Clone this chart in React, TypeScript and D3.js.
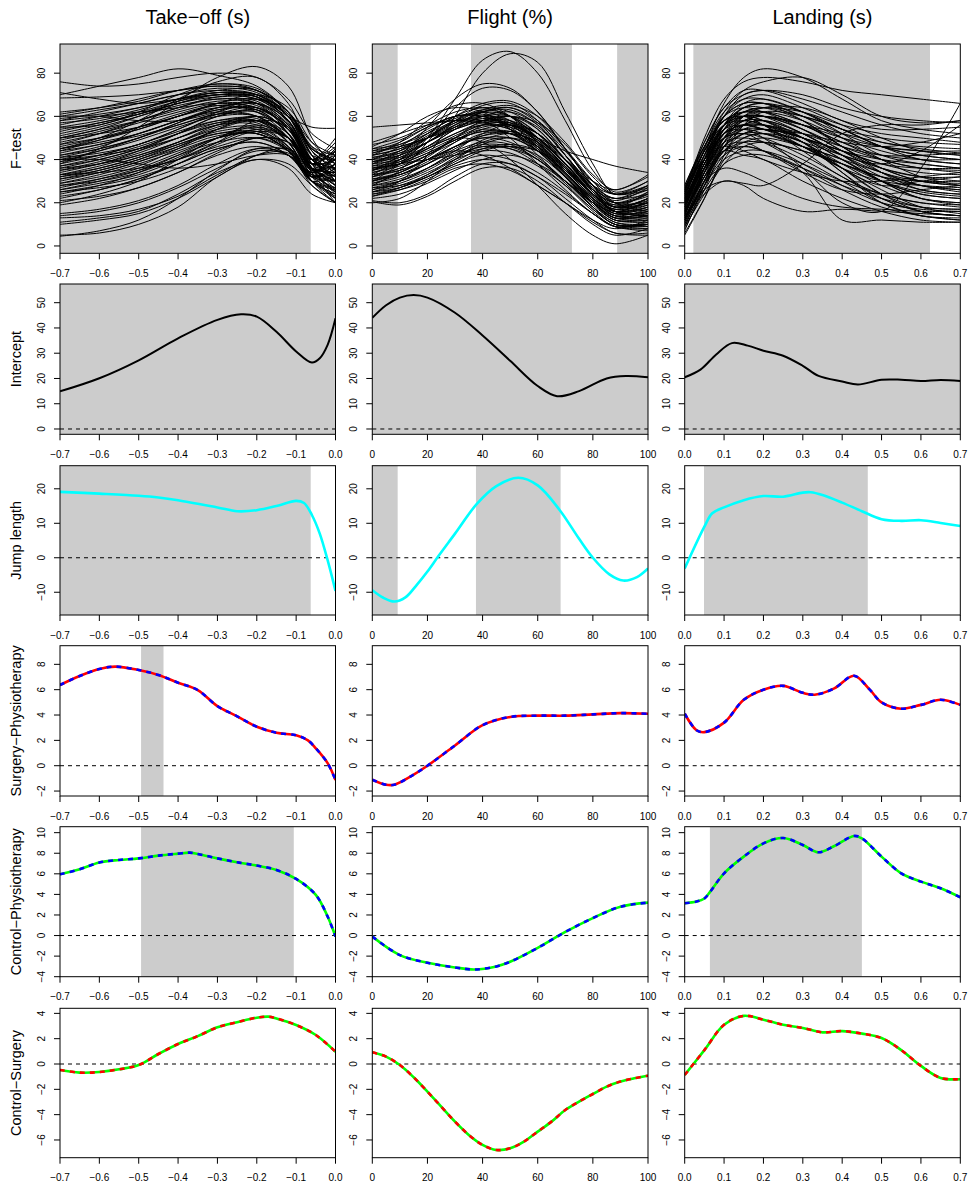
import React from 'react';
import * as d3 from 'd3';

const colTitles = ['Take−off (s)', 'Flight (%)', 'Landing (s)'];
const rowLabels = ['F−test', 'Intercept', 'Jump length', 'Surgery−Physiotherapy', 'Control−Physiotherapy', 'Control−Surgery'];

const xDomains: [number, number][] = [[-0.7, 0], [0, 100], [0, 0.7]];
const xTicksTakeoff = [-0.7, -0.6, -0.5, -0.4, -0.3, -0.2, -0.1, 0.0];
const xTicksFlight = [0, 20, 40, 60, 80, 100];
const xTicksLanding = [0.0, 0.1, 0.2, 0.3, 0.4, 0.5, 0.6, 0.7];

const yDomains: [number, number][] = [[-3.4, 93.5], [-2.1, 57.4], [-16.6, 26.7], [-2.39, 9.47], [-4, 10.58], [-7.4, 4.4]];
const yTicksF = [0, 20, 40, 60, 80];
const yTicksIntercept = [0, 10, 20, 30, 40, 50];
const yTicksJump = [-10, 0, 10, 20];
const yTicksSP = [-2, 0, 2, 4, 6, 8];
const yTicksCP = [-4, -2, 0, 2, 4, 6, 8, 10];
const yTicksCS = [-6, -4, -2, 0, 2, 4];

// significant intervals (shaded)
const shadeF = [[[-0.7, -0.063]], [[0, 9.2], [35.8, 72.4], [88.8, 100]], [[0.022, 0.623]]];
const shadeIntercept = [[[-0.7, 0]], [[0, 100]], [[0, 0.7]]];
const shadeJump = [[[-0.7, -0.063]], [[0, 9.2], [37.6, 68.3]], [[0.049, 0.465]]];
const shadeSP = [[[-0.494, -0.437]], [], []];
const shadeCP = [[[-0.494, -0.106]], [], [[0.064, 0.45]]];
const shadeCS = [[], [], []];

// F-test curves
const fKnotsTakeoff = [-0.7, -0.6, -0.5, -0.4, -0.3, -0.2, -0.12, -0.06, 0];
const fCurvesTakeoff = [
  [76, 74, 75, 78, 80, 78, 68, 52, 45],
  [71, 68, 66, 68, 70, 69, 60, 45, 38],
  [68.5, 69, 70, 72, 74, 72, 62, 48, 42],
  [62, 64, 67, 72, 75, 73, 62, 44, 35],
  [60, 63, 66, 70, 73, 71, 60, 42, 30],
  [58, 62, 66, 70, 72, 70, 58, 40, 33],
  [56, 60, 64, 68, 71, 70, 60, 45, 40],
  [55, 58, 62, 67, 70, 69, 58, 38, 28],
  [53, 57, 61, 66, 69, 68, 57, 36, 25],
  [51, 55, 60, 65, 68, 67, 56, 40, 36],
  [50, 54, 58, 63, 67, 66, 55, 38, 45],
  [48, 52, 57, 62, 66, 65, 54, 36, 30],
  [47, 52, 58, 64, 68, 66, 52, 32, 22],
  [46, 50, 55, 60, 64, 63, 52, 35, 40],
  [45, 48, 52, 58, 63, 64, 55, 40, 48],
  [44, 49, 55, 61, 65, 62, 50, 33, 27],
  [43, 47, 51, 56, 61, 62, 52, 36, 34],
  [42, 46, 52, 58, 62, 60, 48, 30, 20],
  [41, 45, 50, 56, 61, 60, 50, 35, 38],
  [40, 44, 49, 55, 60, 60, 50, 38, 45],
  [40, 42, 45, 50, 56, 58, 50, 36, 30],
  [39, 44, 50, 57, 63, 63, 52, 35, 25],
  [38, 42, 47, 53, 58, 58, 48, 32, 35],
  [37, 41, 46, 52, 57, 57, 48, 34, 42],
  [36, 40, 45, 52, 58, 59, 50, 36, 28],
  [35, 39, 44, 50, 56, 56, 46, 30, 22],
  [34, 38, 43, 50, 57, 58, 48, 32, 38],
  [33, 37, 42, 48, 54, 55, 46, 33, 33],
  [32, 36, 41, 47, 53, 54, 45, 30, 26],
  [31, 35, 40, 46, 52, 53, 45, 34, 44],
  [30, 34, 39, 45, 51, 52, 44, 32, 36],
  [29, 33, 38, 44, 50, 52, 44, 30, 24],
  [28, 31, 35, 40, 46, 50, 45, 36, 40],
  [27, 31, 36, 43, 50, 53, 46, 32, 30],
  [26, 30, 35, 42, 48, 50, 44, 34, 42],
  [25, 28, 32, 38, 45, 48, 42, 30, 27],
  [24, 28, 34, 42, 50, 52, 44, 28, 20],
  [22, 26, 31, 38, 45, 48, 42, 32, 36],
  [19, 22, 27, 34, 42, 46, 42, 33, 30],
  [15, 17, 21, 28, 38, 45, 42, 30, 23],
  [14, 16, 20, 27, 36, 44, 42, 32, 38],
  [13, 14, 17, 23, 33, 42, 43, 32, 25],
  [11, 13, 16, 24, 34, 40, 38, 28, 20],
  [10, 12, 15, 22, 32, 42, 45, 36, 34],
  [5, 6, 10, 18, 32, 40, 36, 24, 20],
  [4.5, 7, 12, 22, 35, 45, 44, 30, 24],
  [40, 40, 38, 36, 38, 42, 42, 34, 38],
  [55, 56, 62, 70, 75, 72, 60, 42, 40],
  [70, 74, 78, 82, 79, 74, 62, 46, 42],
  [45, 50, 58, 68, 76, 78, 66, 45, 40],
  [38, 45, 55, 67, 78, 83, 74, 50, 35],
  [20, 24, 30, 40, 50, 55, 50, 40, 46],
  [25, 27, 30, 36, 44, 50, 48, 40, 50],
  [50, 54, 60, 66, 70, 68, 60, 55, 54.5],
  [60, 60, 58, 58, 62, 66, 58, 40, 30],
  [33, 34, 36, 40, 48, 58, 55, 40, 32],
  [61, 64, 68, 72, 74, 72, 62, 46, 38],
  [59, 61, 64, 68, 71, 70, 61, 44, 36],
  [57, 59, 63, 68, 72, 72, 62, 42, 28],
  [54, 57, 61, 66, 70, 70, 60, 40, 32],
  [52, 56, 61, 67, 71, 69, 58, 40, 42],
  [49, 53, 58, 64, 69, 69, 58, 38, 26],
  [47, 50, 54, 60, 66, 68, 60, 42, 34],
  [44, 47, 52, 58, 64, 66, 58, 40, 44],
  [42, 45, 50, 57, 64, 66, 56, 36, 24],
  [39, 42, 47, 54, 61, 64, 56, 38, 32],
  [37, 40, 45, 52, 60, 63, 55, 38, 40],
  [35, 38, 44, 52, 60, 62, 52, 34, 26],
  [33, 36, 41, 48, 56, 60, 54, 38, 36],
  [31, 34, 39, 46, 54, 58, 52, 36, 30],
  [29, 32, 37, 45, 54, 60, 54, 38, 44],
  [28, 30, 34, 41, 50, 56, 50, 36, 28],
  [26, 29, 33, 40, 48, 54, 50, 36, 34],
  [23, 26, 31, 38, 47, 53, 50, 38, 40],
  [21, 23, 27, 34, 43, 50, 48, 36, 30],
  [45, 49, 54, 60, 65, 64, 54, 36, 22],
  [58, 60, 62, 64, 66, 64, 55, 40, 36],
  [50, 52, 55, 60, 66, 70, 64, 48, 38],
  [41, 43, 47, 54, 62, 68, 62, 44, 30],
  [36, 38, 42, 48, 55, 58, 50, 34, 20],
  [32, 35, 40, 47, 52, 52, 44, 30, 33],
];

const fKnotsFlight = [0, 10, 20, 30, 40, 50, 60, 70, 80, 88, 100];
const fCurvesFlight = [
  [47, 50, 56, 62, 64, 60, 50, 38, 28, 24, 28],
  [45, 47, 52, 58, 62, 60, 52, 40, 28, 22, 24],
  [44, 48, 55, 60, 60, 55, 45, 35, 26, 22, 26],
  [42, 45, 50, 56, 60, 58, 50, 38, 25, 18, 20],
  [41, 44, 50, 58, 65, 66, 58, 42, 26, 18, 22],
  [40, 42, 48, 55, 62, 64, 57, 44, 30, 24, 30],
  [39, 41, 46, 52, 56, 54, 46, 34, 22, 16, 18],
  [38, 42, 50, 58, 63, 60, 50, 36, 22, 14, 15],
  [37, 39, 44, 50, 55, 56, 50, 38, 24, 16, 14],
  [36, 40, 46, 54, 60, 62, 56, 42, 28, 20, 24],
  [35, 38, 43, 49, 53, 52, 45, 33, 20, 12, 12],
  [34, 37, 42, 48, 54, 56, 52, 40, 26, 18, 22],
  [33, 36, 42, 50, 56, 54, 46, 32, 18, 10, 10],
  [32, 35, 40, 46, 50, 50, 44, 34, 22, 15, 18],
  [31, 34, 40, 48, 56, 60, 55, 42, 26, 16, 15],
  [30, 33, 38, 44, 48, 47, 40, 30, 18, 11, 9],
  [29, 32, 38, 46, 52, 52, 46, 34, 20, 12, 13],
  [28, 31, 36, 42, 46, 45, 40, 30, 20, 14, 17],
  [27, 30, 36, 44, 52, 56, 50, 38, 24, 16, 19],
  [26, 29, 34, 40, 44, 43, 37, 28, 17, 10, 8],
  [25, 28, 33, 40, 47, 50, 46, 36, 24, 16, 21],
  [24, 27, 32, 38, 42, 40, 34, 25, 15, 9, 7],
  [23, 26, 31, 37, 40, 38, 32, 24, 15, 9, 10],
  [22, 24, 29, 35, 40, 42, 38, 30, 20, 13, 16],
  [21, 20, 24, 32, 38, 38, 32, 22, 12, 6, 6],
  [20.5, 19, 23, 30, 36, 36, 30, 20, 10, 5, 8],
  [38, 44, 52, 60, 66, 67, 60, 45, 28, 18, 20],
  [43, 46, 50, 54, 58, 60, 57, 47, 32, 24, 26],
  [46, 52, 60, 64, 62, 54, 42, 30, 20, 16, 20],
  [35, 40, 48, 56, 62, 64, 58, 45, 30, 20, 16],
  [40, 46, 54, 60, 60, 54, 44, 32, 20, 13, 14],
  [55, 56, 57, 58, 57, 55, 50, 44, 40, 37, 34],
  [30, 38, 50, 68, 86, 90, 80, 58, 35, 25, 30],
  [25, 30, 42, 60, 80, 89, 85, 62, 38, 24, 28],
  [35, 42, 55, 68, 75, 73, 62, 45, 30, 24, 27],
  [28, 35, 48, 64, 73, 72, 62, 45, 28, 20, 20],
  [32, 38, 45, 50, 48, 40, 28, 15, 5, 1, 5],
  [30, 34, 40, 44, 42, 36, 28, 20, 12, 8, 12],
  [33, 40, 50, 58, 58, 50, 38, 26, 15, 9, 11],
  [36, 38, 40, 42, 45, 46, 44, 36, 24, 18, 25],
  [42, 48, 58, 65, 66, 60, 48, 34, 22, 17, 22],
  [24, 26, 30, 36, 38, 35, 28, 20, 11, 6, 5],
  [39, 43, 50, 57, 63, 65, 60, 48, 33, 26, 33],
  [27, 28, 32, 38, 44, 46, 42, 32, 20, 13, 12],
  [48, 52, 56, 58, 58, 56, 50, 40, 30, 26, 32],
  [20, 22, 30, 40, 48, 50, 44, 32, 18, 10, 10],
  [44, 46, 50, 55, 58, 57, 50, 38, 26, 20, 23],
  [43, 47, 53, 59, 62, 58, 48, 35, 23, 17, 19],
  [41, 43, 48, 54, 58, 58, 52, 40, 27, 21, 27],
  [40, 44, 51, 57, 60, 56, 46, 33, 21, 15, 16],
  [38, 40, 45, 51, 56, 57, 52, 40, 26, 19, 21],
  [37, 41, 48, 55, 59, 56, 47, 34, 21, 14, 13],
  [36, 38, 43, 49, 53, 53, 47, 36, 24, 18, 22],
  [34, 38, 45, 52, 57, 56, 49, 36, 22, 14, 14],
  [33, 35, 40, 46, 51, 52, 48, 37, 24, 17, 20],
  [32, 36, 42, 49, 54, 52, 44, 32, 19, 12, 11],
  [31, 33, 38, 45, 51, 53, 49, 38, 24, 16, 17],
  [29, 33, 39, 46, 50, 48, 41, 30, 18, 11, 10],
  [28, 30, 35, 42, 49, 52, 48, 37, 23, 15, 16],
  [26, 30, 36, 43, 47, 46, 40, 29, 17, 10, 9],
  [25, 27, 32, 39, 45, 47, 44, 34, 21, 13, 14],
  [23, 27, 33, 41, 46, 45, 38, 28, 16, 9, 8],
  [42, 45, 52, 60, 64, 62, 54, 40, 26, 20, 25],
  [39, 42, 48, 56, 62, 63, 56, 42, 28, 22, 28],
  [35, 39, 46, 54, 60, 60, 52, 38, 24, 16, 18],
  [30, 34, 41, 50, 58, 60, 54, 40, 25, 16, 14],
  [45, 49, 55, 60, 61, 57, 48, 36, 24, 19, 24],
];

const fKnotsLanding = [0, 0.05, 0.1, 0.15, 0.2, 0.3, 0.4, 0.5, 0.6, 0.7];
const fCurvesLanding = [
  [25, 50, 68, 76, 78, 76, 72, 70, 68, 66],
  [22, 45, 66, 78, 82, 78, 68, 58, 54, 52],
  [20, 42, 62, 72, 76, 78, 70, 60, 57, 58],
  [28, 48, 64, 70, 72, 68, 62, 56, 52, 50],
  [18, 40, 60, 68, 70, 64, 56, 48, 46, 45],
  [15, 36, 56, 66, 68, 62, 52, 42, 38, 36],
  [24, 44, 58, 62, 62, 56, 48, 40, 36, 34],
  [12, 34, 54, 64, 66, 60, 50, 40, 32, 28],
  [26, 46, 60, 64, 62, 54, 44, 34, 28, 26],
  [10, 30, 50, 60, 62, 58, 50, 44, 40, 38],
  [20, 40, 56, 60, 58, 50, 40, 30, 24, 22],
  [14, 34, 50, 58, 60, 56, 46, 34, 26, 24],
  [22, 38, 52, 56, 54, 46, 36, 26, 18, 15],
  [8, 26, 46, 56, 58, 52, 42, 30, 22, 20],
  [16, 34, 48, 54, 54, 48, 42, 36, 32, 30],
  [19, 36, 48, 50, 48, 40, 30, 20, 14, 12],
  [12, 30, 44, 52, 54, 50, 44, 38, 34, 33],
  [24, 40, 50, 52, 50, 42, 32, 22, 16, 14],
  [16, 32, 44, 48, 48, 44, 38, 32, 28, 26],
  [6, 22, 40, 50, 52, 46, 36, 24, 16, 14],
  [18, 34, 44, 46, 44, 36, 26, 18, 14, 12],
  [13, 28, 40, 44, 44, 38, 30, 24, 20, 18],
  [21, 36, 44, 42, 40, 30, 22, 16, 12, 11],
  [10, 26, 38, 42, 42, 36, 28, 22, 18, 17],
  [17, 30, 36, 34, 30, 22, 18, 17, 16, 16],
  [14, 24, 30, 28, 22, 16, 17, 16, 15, 14],
  [18, 38, 52, 54, 50, 36, 20, 16, 36, 66],
  [15, 32, 46, 52, 54, 50, 42, 38, 44, 56],
  [24, 42, 54, 56, 54, 52, 48, 46, 48, 52],
  [11, 28, 42, 48, 50, 46, 40, 34, 28, 25],
  [20, 38, 50, 52, 48, 38, 28, 20, 17, 16],
  [26, 44, 56, 60, 60, 56, 52, 48, 45, 43],
  [9, 24, 38, 46, 48, 44, 38, 30, 25, 23],
  [23, 42, 56, 62, 64, 62, 56, 52, 50, 48],
  [17, 32, 42, 46, 44, 34, 12, 12, 11, 11],
  [12, 26, 30, 29, 28, 38, 52, 56, 56, 58],
  [27, 40, 46, 44, 40, 34, 30, 30, 32, 34],
  [19, 40, 60, 70, 72, 70, 64, 60, 58, 57],
  [14, 36, 56, 64, 64, 58, 46, 36, 30, 28],
  [25, 44, 56, 58, 56, 50, 44, 40, 38, 36],
  [7, 28, 48, 60, 64, 64, 58, 50, 44, 42],
  [21, 36, 46, 48, 44, 34, 26, 24, 26, 28],
  [16, 36, 54, 62, 64, 60, 54, 46, 40, 38],
  [28, 46, 58, 60, 56, 44, 32, 24, 20, 19],
  [13, 30, 44, 50, 52, 48, 34, 20, 14, 13],
  [18, 36, 50, 54, 52, 46, 40, 30, 22, 19],
  [5, 22, 42, 56, 62, 60, 54, 46, 42, 40],
  [22, 40, 52, 56, 54, 48, 36, 28, 30, 32],
  [20, 42, 60, 66, 66, 60, 52, 46, 44, 44],
  [17, 38, 56, 62, 62, 56, 48, 42, 40, 40],
  [23, 44, 60, 66, 66, 58, 46, 36, 30, 28],
  [14, 34, 52, 60, 60, 54, 44, 36, 32, 32],
  [25, 46, 62, 68, 68, 62, 54, 50, 48, 47],
  [11, 30, 48, 56, 58, 52, 42, 32, 26, 24],
  [19, 38, 52, 56, 56, 50, 44, 38, 36, 36],
  [22, 40, 54, 58, 56, 48, 38, 28, 22, 20],
  [13, 32, 50, 58, 60, 56, 50, 46, 44, 42],
  [26, 48, 64, 72, 72, 66, 58, 54, 54, 55],
  [16, 36, 52, 58, 58, 50, 36, 24, 18, 17],
  [21, 40, 54, 60, 60, 54, 46, 40, 36, 35],
  [9, 28, 46, 54, 56, 50, 40, 30, 24, 22],
  [24, 44, 58, 62, 60, 52, 42, 34, 30, 29],
  [15, 34, 50, 56, 56, 52, 46, 42, 42, 43],
  [18, 38, 54, 60, 58, 48, 34, 22, 16, 14],
  [12, 30, 46, 52, 52, 46, 38, 32, 30, 30],
  [27, 46, 58, 60, 56, 46, 36, 30, 28, 27],
  [20, 40, 56, 64, 66, 62, 54, 46, 42, 40],
];

// Intercept
const interceptTakeoffX = [-0.7, -0.6, -0.5, -0.4, -0.3, -0.24, -0.2, -0.15, -0.1, -0.06, -0.04, -0.02, 0];
const interceptTakeoffY = [14.9, 20.1, 27.2, 35.9, 43.2, 45.4, 44.5, 38.5, 30.7, 26.3, 28, 33.3, 43.8];
const interceptFlightX = [0, 5, 10, 15, 20, 30, 40, 50, 60, 67, 75, 85, 92, 100];
const interceptFlightY = [44, 49, 52, 53, 52, 46, 37, 27, 17, 13, 15, 20, 21, 20.5];
const interceptLandingX = [0, 0.04, 0.08, 0.12, 0.16, 0.2, 0.25, 0.3, 0.34, 0.4, 0.44, 0.5, 0.55, 0.6, 0.65, 0.7];
const interceptLandingY = [20.5, 23.5, 29.5, 34, 33, 31, 29, 25, 21, 18.8, 17.6, 19.5, 19.5, 19, 19.4, 19];

// Jump length
const jumpTakeoffX = [-0.7, -0.6, -0.5, -0.45, -0.4, -0.3, -0.25, -0.2, -0.15, -0.1, -0.08, -0.06, -0.04, -0.02, 0];
const jumpTakeoffY = [19.1, 18.6, 18, 17.5, 16.7, 14.6, 13.5, 13.8, 15, 16.5, 15.9, 12.4, 7, -0.7, -9.6];
const jumpFlightX = [0, 4, 8, 12, 16, 20, 24, 30, 38, 45, 53, 60, 68, 75, 80, 86, 91, 96, 100];
const jumpFlightY = [-9.4, -11.6, -12.7, -11.5, -8, -4, 0.5, 7, 15.7, 20.8, 23.2, 21, 13.8, 5.5, 0, -4.8, -6.6, -5.6, -3.1];
const jumpLandingX = [0, 0.05, 0.07, 0.1, 0.15, 0.2, 0.25, 0.3, 0.32, 0.35, 0.4, 0.45, 0.5, 0.55, 0.6, 0.65, 0.7];
const jumpLandingY = [-3.1, 9, 12.9, 14.6, 16.7, 17.9, 17.7, 18.9, 19, 18.2, 16, 13.5, 11.2, 10.7, 10.9, 10.1, 9.2];

// Surgery-Physiotherapy
const spTakeoffX = [-0.7, -0.65, -0.6, -0.56, -0.5, -0.45, -0.4, -0.35, -0.3, -0.25, -0.2, -0.15, -0.1, -0.07, -0.05, -0.02, 0];
const spTakeoffY = [6.37, 7.08, 7.63, 7.82, 7.55, 7.16, 6.55, 5.97, 4.7, 3.9, 3.08, 2.6, 2.4, 2.0, 1.37, 0.2, -1.13];
const spFlightX = [0, 5, 8, 15, 20, 30, 40, 50, 60, 70, 80, 90, 100];
const spFlightY = [-1.1, -1.5, -1.5, -0.7, 0, 1.6, 3.2, 3.85, 3.95, 3.95, 4.05, 4.15, 4.1];
const spLandingX = [0, 0.03, 0.05, 0.1, 0.15, 0.2, 0.25, 0.3, 0.33, 0.38, 0.43, 0.47, 0.5, 0.55, 0.6, 0.65, 0.7];
const spLandingY = [4.1, 2.8, 2.65, 3.4, 5.2, 6, 6.3, 5.75, 5.6, 6.1, 7.1, 6, 5, 4.5, 4.8, 5.2, 4.8];

// Control-Physiotherapy
const cpTakeoffX = [-0.7, -0.65, -0.6, -0.55, -0.5, -0.45, -0.4, -0.37, -0.35, -0.3, -0.25, -0.2, -0.15, -0.1, -0.05, -0.02, 0];
const cpTakeoffY = [5.95, 6.44, 7.1, 7.35, 7.5, 7.77, 7.96, 8.06, 7.93, 7.5, 7.12, 6.8, 6.38, 5.5, 3.95, 1.85, -0.1];
const cpFlightX = [0, 10, 20, 30, 37, 45, 50, 60, 70, 80, 90, 100];
const cpFlightY = [-0.1, -1.9, -2.65, -3.1, -3.3, -3.0, -2.55, -1.2, 0.35, 1.7, 2.8, 3.2];
const cpLandingX = [0, 0.03, 0.05, 0.065, 0.1, 0.15, 0.2, 0.25, 0.3, 0.34, 0.38, 0.43, 0.45, 0.5, 0.55, 0.6, 0.65, 0.7];
const cpLandingY = [3.14, 3.3, 3.6, 4.27, 6.05, 7.67, 8.96, 9.48, 8.8, 8.09, 8.7, 9.68, 9.45, 7.67, 6.05, 5.24, 4.6, 3.72];

// Control-Surgery
const csTakeoffX = [-0.7, -0.65, -0.6, -0.55, -0.5, -0.45, -0.4, -0.35, -0.3, -0.25, -0.2, -0.17, -0.15, -0.1, -0.05, 0];
const csTakeoffY = [-0.47, -0.68, -0.63, -0.42, -0.08, 0.79, 1.58, 2.2, 2.9, 3.3, 3.66, 3.74, 3.6, 3.08, 2.29, 0.97];
const csFlightX = [0, 5, 10, 15, 20, 25, 30, 35, 40, 45, 50, 55, 60, 65, 70, 75, 80, 85, 90, 95, 100];
const csFlightY = [0.92, 0.58, -0.08, -1.05, -2.18, -3.37, -4.55, -5.6, -6.39, -6.79, -6.66, -6.13, -5.34, -4.55, -3.63, -2.97, -2.37, -1.79, -1.39, -1.13, -0.92];
const csLandingX = [0, 0.05, 0.1, 0.15, 0.2, 0.25, 0.3, 0.35, 0.4, 0.45, 0.5, 0.55, 0.6, 0.65, 0.7];
const csLandingY = [-0.87, 1.1, 3.1, 3.8, 3.5, 3.1, 2.85, 2.5, 2.6, 2.4, 2.05, 1.1, -0.15, -1.1, -1.2];

// ---------- layout ----------
const W = 969;
const H = 1187;
const colPx: [number, number][] = [[60, 335.5], [372.3, 648], [684.7, 960.3]];
const rowPx: [number, number][] = [[44, 253.3], [284, 434.3], [465.7, 615], [645.7, 796], [826.7, 976.7], [1008.3, 1157.7]];
const FONT = 'Liberation Sans, Arial, Helvetica, sans-serif';

const xTicksByCol = [xTicksTakeoff, xTicksFlight, xTicksLanding];
const yTicksByRow = [yTicksF, yTicksIntercept, yTicksJump, yTicksSP, yTicksCP, yTicksCS];
const shadeByRow = [shadeF, shadeIntercept, shadeJump, shadeSP, shadeCP, shadeCS];
const fKnots = [fKnotsTakeoff, fKnotsFlight, fKnotsLanding];
const fCurves = [fCurvesTakeoff, fCurvesFlight, fCurvesLanding];
const lineData: [number[], number[]][][] = [
  [],
  [[interceptTakeoffX, interceptTakeoffY], [interceptFlightX, interceptFlightY], [interceptLandingX, interceptLandingY]],
  [[jumpTakeoffX, jumpTakeoffY], [jumpFlightX, jumpFlightY], [jumpLandingX, jumpLandingY]],
  [[spTakeoffX, spTakeoffY], [spFlightX, spFlightY], [spLandingX, spLandingY]],
  [[cpTakeoffX, cpTakeoffY], [cpFlightX, cpFlightY], [cpLandingX, cpLandingY]],
  [[csTakeoffX, csTakeoffY], [csFlightX, csFlightY], [csLandingX, csLandingY]],
];
const lineStyles = [
  null,
  { base: '#000000', dash: null, width: 2 },
  { base: '#00FFFF', dash: null, width: 2.6 },
  { base: '#FF0000', dash: '#0000FF', width: 2.6 },
  { base: '#00FF00', dash: '#0000FF', width: 2.6 },
  { base: '#00FF00', dash: '#FF0000', width: 2.6 },
];

function fmtX(col: number, v: number) {
  const s = col === 1 ? d3.format('d')(v) : d3.format('.1f')(v);
  return s.replace('-', '−');
}
function fmtY(v: number) {
  return String(v).replace('-', '−');
}

function Panel({ r, c }: { r: number; c: number }) {
  const [x0, x1] = colPx[c];
  const [y0, y1] = rowPx[r];
  const xs = d3.scaleLinear().domain(xDomains[c]).range([x0, x1]);
  const ys = d3.scaleLinear().domain(yDomains[r]).range([y1, y0]);
  const clipId = `clip-${r}-${c}`;
  const line = d3
    .line<[number, number]>()
    .x((d) => xs(d[0]))
    .y((d) => ys(d[1]))
    .curve(d3.curveCatmullRom.alpha(0.5));

  const shades = shadeByRow[r][c] as number[][];
  const elems: React.ReactNode[] = [];

  shades.forEach((s, i) => {
    elems.push(
      <rect key={`s${i}`} x={xs(s[0])} y={y0} width={xs(s[1]) - xs(s[0])} height={y1 - y0} fill="#CCCCCC" />
    );
  });

  if (r === 0) {
    const knots = fKnots[c];
    fCurves[c].forEach((vals, i) => {
      const pts = knots.map((k, j) => [k, vals[j]] as [number, number]);
      elems.push(<path key={`f${i}`} d={line(pts) || ''} fill="none" stroke="#000" strokeWidth={1} />);
    });
  } else {
    elems.push(
      <line key="zero" x1={x0} x2={x1} y1={ys(0)} y2={ys(0)} stroke="#000" strokeWidth={1} strokeDasharray="4 4" />
    );
    const [lx, ly] = lineData[r][c];
    const pts = lx.map((x, j) => [x, ly[j]] as [number, number]);
    const st = lineStyles[r]!;
    const d = line(pts) || '';
    elems.push(<path key="base" d={d} fill="none" stroke={st.base} strokeWidth={st.width} />);
    if (st.dash) {
      elems.push(
        <path key="dash" d={d} fill="none" stroke={st.dash} strokeWidth={st.width} strokeDasharray="5 5" />
      );
    }
  }

  const xt = xTicksByCol[c];
  const yt = yTicksByRow[r];
  return (
    <g>
      <defs>
        <clipPath id={clipId}>
          <rect x={x0} y={y0} width={x1 - x0} height={y1 - y0} />
        </clipPath>
      </defs>
      <g clipPath={`url(#${clipId})`}>{elems}</g>
      <rect x={x0} y={y0} width={x1 - x0} height={y1 - y0} fill="none" stroke="#000" strokeWidth={1} />
      {xt.map((t, i) => (
        <g key={`xt${i}`}>
          <line x1={xs(t)} x2={xs(t)} y1={y1} y2={y1 + 6} stroke="#000" strokeWidth={1} />
          <text x={xs(t)} y={y1 + 23.5} textAnchor="middle" fontSize={10} fontFamily={FONT} fill="#000">
            {fmtX(c, t)}
          </text>
        </g>
      ))}
      {yt.map((t, i) => (
        <g key={`yt${i}`}>
          <line x1={x0 - 6} x2={x0} y1={ys(t)} y2={ys(t)} stroke="#000" strokeWidth={1} />
          <text
            transform={`translate(${x0 - 15},${ys(t)}) rotate(-90)`}
            textAnchor="middle"
            fontSize={10}
            fontFamily={FONT}
            fill="#000"
          >
            {fmtY(t)}
          </text>
        </g>
      ))}
    </g>
  );
}

export default function App() {
  const panels: React.ReactNode[] = [];
  for (let r = 0; r < 6; r++) {
    for (let c = 0; c < 3; c++) {
      panels.push(<Panel key={`${r}-${c}`} r={r} c={c} />);
    }
  }
  return (
    <svg width={W} height={H} style={{ position: 'absolute', left: 0, top: 0, background: '#fff' }}>
      <rect x={0} y={0} width={W} height={H} fill="#fff" />
      {colTitles.map((t, c) => (
        <text
          key={`ct${c}`}
          x={(colPx[c][0] + colPx[c][1]) / 2}
          y={24}
          textAnchor="middle"
          fontSize={20}
          fontFamily={FONT}
          fill="#000"
        >
          {t}
        </text>
      ))}
      {rowLabels.map((t, r) => (
        <text
          key={`rl${r}`}
          transform={`translate(21,${(rowPx[r][0] + rowPx[r][1]) / 2}) rotate(-90)`}
          textAnchor="middle"
          fontSize={14.5}
          fontFamily={FONT}
          fill="#000"
        >
          {t}
        </text>
      ))}
      {panels}
    </svg>
  );
}
